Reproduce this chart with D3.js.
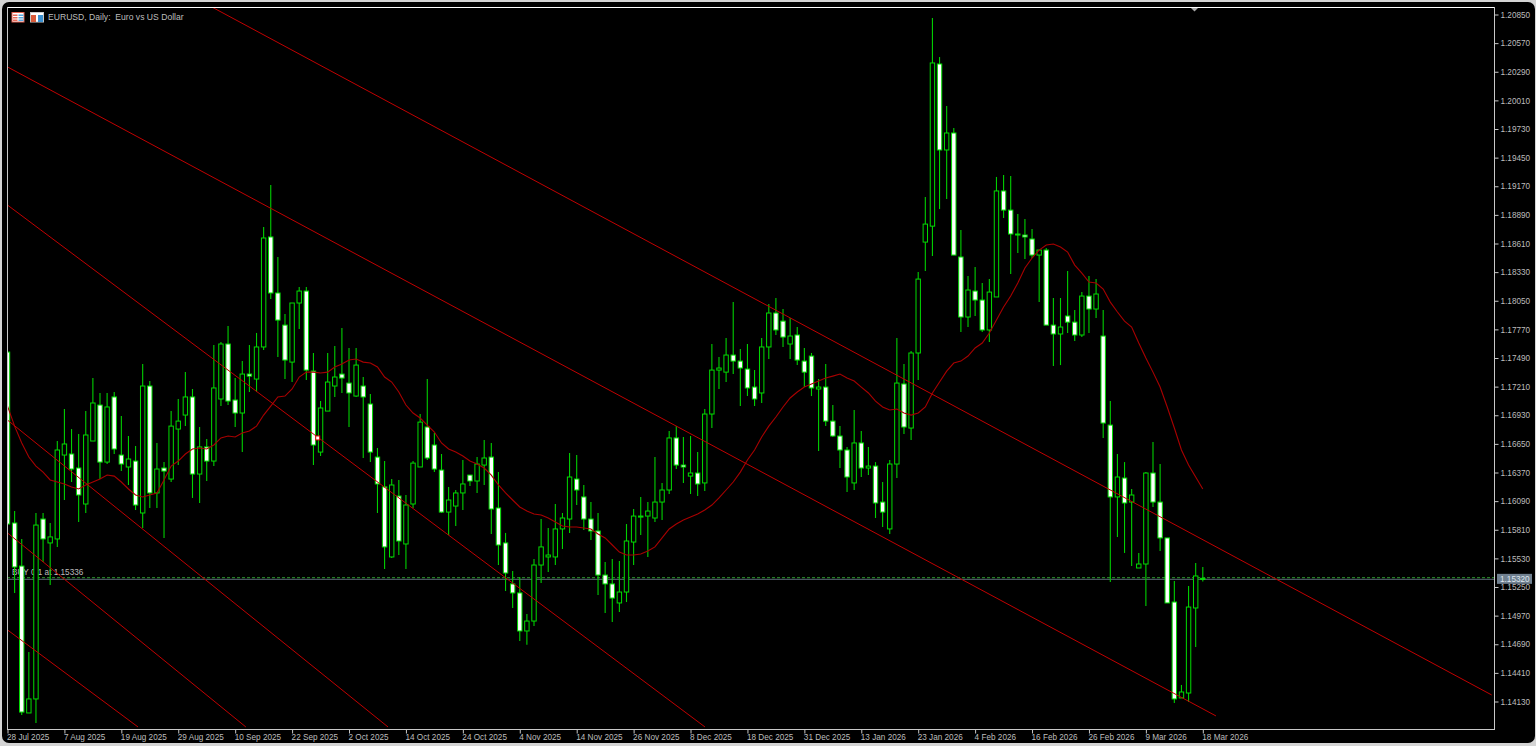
<!DOCTYPE html>
<html><head><meta charset="utf-8">
<script src="https://cdn.jsdelivr.net/npm/d3@7/dist/d3.min.js"></script>
<style>html,body{margin:0;padding:0;background:#d4d4d4;overflow:hidden}svg{display:block}</style>
</head><body><svg id="c" width="1536" height="746"></svg>
<script>
const title = "EURUSD, Daily:  Euro vs US Dollar";
const orderLabel = "BUY 0.1 at 1.15336";
const orderPrice = 1.15336, lastPrice = 1.15320;
const priceTicks = [1.20850,1.20570,1.20290,1.20010,1.19730,1.19450,1.19170,1.18890,1.18610,1.18330,1.18050,1.17770,1.17490,1.17210,1.16930,1.16650,1.16370,1.16090,1.15810,1.15530,1.15250,1.14970,1.14690,1.14410,1.14130];
const dateLabels = ["28 Jul 2025","7 Aug 2025","19 Aug 2025","29 Aug 2025","10 Sep 2025","22 Sep 2025","2 Oct 2025","14 Oct 2025","24 Oct 2025","4 Nov 2025","14 Nov 2025","26 Nov 2025","8 Dec 2025","18 Dec 2025","31 Dec 2025","13 Jan 2026","23 Jan 2026","4 Feb 2026","16 Feb 2026","26 Feb 2026","9 Mar 2026","18 Mar 2026"];
const opens = [1.17543,1.15871,1.15450,1.14013,1.14150,1.15910,1.15676,1.15715,1.16536,1.16546,1.16409,1.16057,1.16673,1.17025,1.16467,1.17104,1.16536,1.16419,1.16477,1.15969,1.17211,1.16165,1.16409,1.16301,1.16790,1.16927,1.17104,1.16350,1.16615,1.16477,1.17084,1.17622,1.17074,1.16947,1.17328,1.17279,1.17593,1.18669,1.18121,1.17807,1.17445,1.18023,1.18140,1.17357,1.16565,1.16966,1.17211,1.17328,1.17240,1.17113,1.17211,1.17035,1.16516,1.16224,1.15539,1.16135,1.15666,1.16057,1.16419,1.16810,1.16634,1.16389,1.15978,1.16037,1.16165,1.16340,1.16282,1.16438,1.16516,1.16018,1.15676,1.15275,1.15187,1.14815,1.14912,1.15460,1.15539,1.15539,1.15813,1.15910,1.16301,1.16126,1.15910,1.15793,1.15362,1.15275,1.15089,1.15196,1.15685,1.15929,1.15939,1.15920,1.16076,1.16194,1.16703,1.16438,1.16330,1.16360,1.16263,1.16937,1.17367,1.17347,1.17514,1.17455,1.17377,1.17201,1.17143,1.17593,1.17925,1.17846,1.17622,1.17710,1.17455,1.17504,1.17182,1.17201,1.16868,1.16722,1.16585,1.16263,1.16654,1.16409,1.16428,1.16076,1.15813,1.16448,1.17231,1.16800,1.17534,1.18619,1.18775,1.20361,1.19520,1.19686,1.18473,1.17886,1.18140,1.18052,1.17759,1.18082,1.19119,1.18932,1.18698,1.18688,1.18649,1.18492,1.18541,1.17807,1.17720,1.17896,1.17836,1.17710,1.18091,1.17964,1.17700,1.16829,1.16126,1.16311,1.16076,1.15431,1.15470,1.16360,1.16076,1.15725,1.15098,1.14160,1.14208,1.15040,1.15330];
const highs = [1.17543,1.15988,1.15715,1.14609,1.15969,1.15969,1.15871,1.16673,1.16986,1.16790,1.16742,1.16966,1.17289,1.17143,1.17143,1.17152,1.16917,1.16722,1.16624,1.17426,1.17260,1.16654,1.16467,1.16966,1.17084,1.17347,1.17182,1.16810,1.16693,1.17612,1.17641,1.17797,1.17289,1.17455,1.17612,1.17730,1.18766,1.19178,1.18473,1.17915,1.18023,1.18180,1.18180,1.17534,1.17064,1.17534,1.17602,1.17778,1.17583,1.17583,1.17299,1.17133,1.16605,1.16477,1.16301,1.16292,1.16145,1.16477,1.16937,1.17279,1.16752,1.16546,1.16224,1.16194,1.16487,1.16340,1.16516,1.16683,1.16654,1.16369,1.15774,1.15401,1.15343,1.14981,1.15519,1.15910,1.15822,1.16057,1.15969,1.16555,1.16536,1.16243,1.16076,1.15969,1.15489,1.15519,1.15499,1.15861,1.16008,1.16126,1.16076,1.16516,1.16263,1.16771,1.16819,1.16713,1.16722,1.16565,1.16986,1.17622,1.17495,1.17680,1.18032,1.17573,1.17622,1.17367,1.17680,1.18013,1.18072,1.17964,1.17876,1.17788,1.17583,1.17534,1.17279,1.17426,1.17025,1.16819,1.16615,1.16976,1.16771,1.16615,1.16467,1.16272,1.16487,1.17680,1.17426,1.17553,1.18326,1.19059,1.20811,1.20429,1.19950,1.19735,1.18737,1.18287,1.18375,1.18219,1.18257,1.19256,1.19275,1.19266,1.18893,1.18844,1.18746,1.18541,1.18561,1.18072,1.18072,1.18335,1.17954,1.18130,1.18287,1.18257,1.17954,1.17064,1.16546,1.16467,1.16204,1.15578,1.16369,1.16663,1.16448,1.15725,1.15304,1.14287,1.15255,1.15480,1.15441];
const lows = [1.15861,1.15187,1.13993,1.14013,1.13915,1.15489,1.15265,1.15637,1.16096,1.16272,1.15880,1.15969,1.16673,1.16301,1.16448,1.16546,1.16379,1.16243,1.15998,1.15822,1.16018,1.16018,1.15725,1.16272,1.16438,1.16819,1.16116,1.16067,1.16282,1.16428,1.17015,1.17025,1.16810,1.16565,1.17152,1.17152,1.17563,1.18062,1.17495,1.17279,1.17250,1.17768,1.17270,1.16438,1.16526,1.16966,1.17104,1.17143,1.16810,1.17104,1.16507,1.16467,1.15969,1.15421,1.15529,1.15558,1.15421,1.16018,1.16419,1.16487,1.16369,1.15969,1.15754,1.15841,1.15998,1.16233,1.16165,1.16243,1.15764,1.15460,1.15206,1.15040,1.14717,1.14680,1.14863,1.15285,1.15391,1.15460,1.15617,1.15774,1.16047,1.15803,1.15705,1.15167,1.14991,1.14902,1.15000,1.15098,1.15460,1.15754,1.15539,1.15880,1.15900,1.16155,1.16399,1.16263,1.16155,1.16135,1.16184,1.16800,1.17182,1.17250,1.17328,1.17015,1.17113,1.17015,1.17045,1.17475,1.17710,1.17593,1.17475,1.17416,1.17201,1.17113,1.16575,1.16819,1.16713,1.16409,1.16174,1.16194,1.16321,1.16340,1.15920,1.15832,1.15764,1.16311,1.16742,1.16683,1.17270,1.18335,1.18482,1.18942,1.19041,1.18492,1.17739,1.17788,1.17896,1.17739,1.17641,1.18082,1.18854,1.18306,1.18512,1.18453,1.18463,1.18032,1.17807,1.17406,1.17416,1.17730,1.17651,1.17690,1.17730,1.17876,1.16703,1.15294,1.15735,1.15578,1.15450,1.15431,1.15059,1.16028,1.15597,1.15089,1.14111,1.14160,1.14120,1.14658,1.15300];
const closes = [1.15861,1.15441,1.14022,1.14150,1.15851,1.15715,1.15735,1.16585,1.16644,1.16399,1.16145,1.16732,1.17045,1.16467,1.17006,1.16595,1.16448,1.16497,1.16047,1.17211,1.16165,1.16399,1.16379,1.16819,1.16868,1.17104,1.16350,1.16615,1.16477,1.17192,1.17622,1.17064,1.16947,1.17328,1.17308,1.17593,1.18659,1.18121,1.17856,1.17465,1.18023,1.18140,1.17367,1.16634,1.16996,1.17250,1.17299,1.17289,1.17143,1.17416,1.17104,1.16565,1.16253,1.15637,1.16243,1.15695,1.16047,1.16457,1.16858,1.16507,1.16399,1.15978,1.16096,1.16165,1.16253,1.16282,1.16448,1.16507,1.16008,1.15656,1.15382,1.15187,1.14815,1.14912,1.15460,1.15637,1.15558,1.15813,1.15920,1.16321,1.16194,1.15910,1.15793,1.15362,1.15275,1.15137,1.15196,1.15695,1.15939,1.15939,1.15988,1.16076,1.16194,1.16703,1.16438,1.16419,1.16360,1.16253,1.16937,1.17367,1.17387,1.17514,1.17455,1.17387,1.17192,1.17084,1.17593,1.17925,1.17759,1.17690,1.17700,1.17465,1.17347,1.17192,1.17201,1.16868,1.16722,1.16585,1.16321,1.16654,1.16409,1.16428,1.16067,1.15978,1.16448,1.17240,1.16810,1.17534,1.18257,1.18795,1.20371,1.19520,1.19686,1.18492,1.17886,1.18150,1.18052,1.17759,1.18130,1.19119,1.18932,1.18698,1.18688,1.18669,1.18492,1.18541,1.17807,1.17720,1.17788,1.17836,1.17710,1.18091,1.17964,1.18111,1.16849,1.16126,1.16321,1.16067,1.16145,1.15470,1.16360,1.16076,1.15725,1.15089,1.14150,1.14218,1.15049,1.15353,1.15320];
const movingAverage = [1.17015,1.16819,1.16654,1.16516,1.16428,1.16369,1.16292,1.16272,1.16253,1.16224,1.16204,1.16243,1.16272,1.16301,1.16340,1.16330,1.16272,1.16204,1.16145,1.16126,1.16145,1.16165,1.16292,1.16428,1.16477,1.16546,1.16595,1.16605,1.16595,1.16634,1.16703,1.16722,1.16713,1.16752,1.16771,1.16819,1.16927,1.17015,1.17104,1.17113,1.17182,1.17299,1.17347,1.17347,1.17338,1.17347,1.17397,1.17426,1.17465,1.17475,1.17445,1.17436,1.17397,1.17299,1.17250,1.17152,1.17025,1.16947,1.16898,1.16829,1.16761,1.16654,1.16595,1.16565,1.16526,1.16477,1.16448,1.16409,1.16340,1.16243,1.16165,1.16096,1.16028,1.15988,1.15959,1.15949,1.15920,1.15880,1.15841,1.15832,1.15832,1.15822,1.15813,1.15764,1.15725,1.15656,1.15587,1.15558,1.15558,1.15568,1.15597,1.15637,1.15725,1.15813,1.15861,1.15900,1.15929,1.15959,1.15998,1.16047,1.16116,1.16194,1.16272,1.16369,1.16487,1.16585,1.16713,1.16819,1.16908,1.17006,1.17094,1.17152,1.17201,1.17231,1.17260,1.17289,1.17308,1.17328,1.17289,1.17260,1.17201,1.17143,1.17064,1.17006,1.16976,1.16986,1.16947,1.16927,1.16947,1.17006,1.17143,1.17250,1.17357,1.17436,1.17455,1.17504,1.17583,1.17632,1.17730,1.17856,1.17984,1.18091,1.18219,1.18365,1.18463,1.18541,1.18590,1.18600,1.18570,1.18521,1.18394,1.18316,1.18228,1.18219,1.18160,1.18032,1.17935,1.17846,1.17788,1.17632,1.17485,1.17347,1.17201,1.17006,1.16800,1.16585,1.16438,1.16321,1.16204];
// channel lines: start bar, start price, end bar, end price
const lineStartBar = [28.46,0,0,0,0,0];
const lineStartPrice = [1.20928,1.20332,1.18981,1.16878,1.15774,1.14825];
const lineEndBar = [208.6,169.85,98.03,53.48,33.5,18.34];
const lineEndPrice = [1.14189,1.13984,1.13876,1.13876,1.13876,1.13876];
const tradeBar = 43.6, tradePrice = 1.16703;

const barsPerTick = 8;
const svg = d3.select("#c");
const x = d3.scaleLinear().domain([0,168]).range([7.5,1202.8]);
const y = d3.scaleLinear().domain([1.1413,1.2085]).range([701,14]);
const L=7,T=7,R=1494,B=729;
const font="'Liberation Sans',Arial,sans-serif";
const textColor="#bdbdbd";

// frame
svg.append("rect").attr("x",2).attr("y",2).attr("width",1533).attr("height",741).attr("rx",7).attr("fill","#000");
svg.append("defs").append("clipPath").attr("id","plot").append("rect").attr("x",L).attr("y",T).attr("width",R-L).attr("height",B-T);

const plot = svg.append("g").attr("clip-path","url(#plot)");

// order label + lines
plot.append("text").attr("x",12).attr("y",575).attr("fill",textColor).attr("font-family",font).attr("font-size",8.2).text(orderLabel);
plot.append("line").attr("x1",L).attr("x2",R).attr("y1",y(lastPrice)).attr("y2",y(lastPrice)).attr("stroke","#4a5560").attr("stroke-width",1.4);
plot.append("line").attr("x1",L).attr("x2",R).attr("y1",y(orderPrice)).attr("y2",y(orderPrice)).attr("stroke","#2f9a2f").attr("stroke-width",1).attr("stroke-dasharray","3,2");

// candles
const bars = plot.append("g").selectAll("g").data(opens).join("g");
bars.append("line")
  .attr("x1",(d,i)=>x(i)).attr("x2",(d,i)=>x(i))
  .attr("y1",(d,i)=>y(highs[i])).attr("y2",(d,i)=>y(lows[i]))
  .attr("stroke","#00d000").attr("stroke-width",1.1);
bars.append("rect")
  .attr("x",(d,i)=>x(i)-2.2).attr("width",4.4)
  .attr("y",(d,i)=>y(Math.max(opens[i],closes[i])))
  .attr("height",(d,i)=>Math.max(0.8,Math.abs(y(opens[i])-y(closes[i]))))
  .attr("fill",(d,i)=>closes[i]>=opens[i]?"#000":"#fff")
  .attr("stroke","#00dc00").attr("stroke-width",1);

// moving average
plot.append("path").datum(movingAverage)
  .attr("d",d3.line().x((d,i)=>x(i)).y(d=>y(d)))
  .attr("fill","none").attr("stroke","#a80000").attr("stroke-width",1.1);

// channel lines
plot.append("g").selectAll("line").data(lineStartBar).join("line")
  .attr("x1",d=>x(d)).attr("y1",(d,i)=>y(lineStartPrice[i]))
  .attr("x2",(d,i)=>x(lineEndBar[i])).attr("y2",(d,i)=>y(lineEndPrice[i]))
  .attr("stroke","#c00000").attr("stroke-width",1);

// trade marker
plot.append("rect").attr("x",x(tradeBar)-2).attr("y",y(tradePrice)-2).attr("width",4).attr("height",4).attr("fill","#fff").attr("stroke","#e00000").attr("stroke-width",1);

// shift marker
svg.append("path").attr("d","M1190,7L1199,7L1194.5,11.5Z").attr("fill","#a8a8a8");

// border
svg.append("line").attr("x1",L).attr("x2",R).attr("y1",T+.5).attr("y2",T+.5).attr("stroke","#fff");
svg.append("line").attr("x1",L+.5).attr("x2",L+.5).attr("y1",T).attr("y2",B).attr("stroke","#c8c8c8");

// axes
const yAxis = d3.axisRight(y).tickValues(priceTicks).tickFormat(d=>d.toFixed(5)).tickSize(4).tickPadding(2);
const gy = svg.append("g").attr("transform",`translate(${R+.5},0.5)`).call(yAxis);
const xAxis = d3.axisBottom(x).tickValues(dateLabels.map((d,i)=>i*barsPerTick)).tickFormat((d,i)=>dateLabels[i]).tickSize(4).tickPadding(1);
const gx = svg.append("g").attr("transform",`translate(0,${B+.5})`).call(xAxis);
for(const g of [gx,gy]){
  g.select(".domain").remove();
  g.selectAll("line").attr("stroke","#c8c8c8");
  g.selectAll("text").attr("fill",textColor).attr("font-family",font).attr("font-size",8.2);
}
gx.selectAll("text").attr("text-anchor","start").attr("dx",-1);
svg.append("line").attr("x1",R+.5).attr("x2",R+.5).attr("y1",T).attr("y2",B).attr("stroke","#c8c8c8");
svg.append("line").attr("x1",L).attr("x2",R+1).attr("y1",B+.5).attr("y2",B+.5).attr("stroke","#c8c8c8");

// last price box
svg.append("rect").attr("x",1497).attr("y",y(lastPrice)-5.5).attr("width",35).attr("height",10).attr("fill","#708090");
svg.append("text").attr("x",1500).attr("y",y(lastPrice)+2.5).attr("fill","#dfe6ee").attr("font-family",font).attr("font-size",8.2).text(lastPrice.toFixed(5));

// header icons & title
const ic = svg.append("g");
ic.append("rect").attr("x",12).attr("y",12.5).attr("width",12).attr("height",9.5).attr("fill","#fff").attr("stroke","#e06050");
ic.selectAll(".r").data([14.5,17,19.5]).join("rect").attr("x",13).attr("y",d=>d).attr("width",4.5).attr("height",1.5).attr("fill","#e86a5a");
ic.selectAll(".b").data([14.5,17,19.5]).join("rect").attr("x",18.5).attr("y",d=>d).attr("width",5).attr("height",1.5).attr("fill","#58a8e0");
ic.append("rect").attr("x",30.5).attr("y",12.5).attr("width",13).attr("height",9.5).attr("fill","#fff").attr("stroke","#c8c8c8");
ic.append("rect").attr("x",31).attr("y",15).attr("width",5).attr("height",7).attr("fill","#d85a3a");
ic.append("rect").attr("x",38).attr("y",15).attr("width",5).attr("height",7).attr("fill","#3a90d0");
svg.append("text").attr("x",48).attr("y",20).attr("fill",textColor).attr("font-family",font).attr("font-size",8.6).style("white-space","pre").text(title);
</script></body></html>
